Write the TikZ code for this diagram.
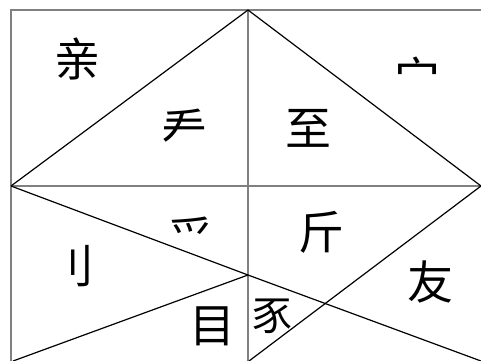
\documentclass[tikz,border=0pt]{standalone}
\usepackage{fontspec}
\newfontfamily\cjk{Noto Sans CJK SC}
\begin{document}
\begin{tikzpicture}[x=1pt,y=-1pt,
  frameline/.style={draw=black!50,line width=1.1pt},
  diagline/.style={draw=black,line width=1.2pt},
  glyph/.style={font=\cjk\fontsize{46}{46}\selectfont,inner sep=0pt},
  smallglyph/.style={font=\cjk\fontsize{40}{40}\selectfont,inner sep=0pt}]
\useasboundingbox (0,0) rectangle (481,360);
\clip (0,0) rectangle (481,360);
% key points
\coordinate (tl) at (11,10);
\coordinate (tm) at (248,10);
\coordinate (tr) at (490,10);
\coordinate (ml) at (11,186);
\coordinate (mm) at (248,186);
\coordinate (mr) at (481,186);
\coordinate (mrx) at (490,186);
\coordinate (bl) at (11,370);
\coordinate (bm) at (248,370);
\coordinate (cx) at (248,275);
\coordinate (bld) at (13,361);
\coordinate (bmd) at (249,361);
\coordinate (brd) at (481,361);
% frame
\draw[frameline] (tr) -- (tl) -- (bl);
\draw[frameline] (tm) -- (bm);
\draw[frameline] (ml) -- (mrx);
% diagonals
\draw[diagline] (ml) -- (tm) -- (mr);
\draw[diagline] (ml) -- (cx) -- (brd);
\draw[diagline] (cx) -- (bld);
\draw[diagline] (mr) -- (bmd);
% glyphs
\node[glyph] (qin) at (77,59) {亲};
\node[glyph] (mian) at (417,76) {宀};
\node[glyph] (shou) at (184,128) {龵};
\node[glyph] (zhi) at (308,128) {至};
\node[glyph] (zhao) at (191,236) {爫};
\node[glyph] (jin) at (321,232) {斤};
\node[glyph] (dao) at (71,266) {刂};
\node[glyph] (you) at (430,282) {友};
\node[glyph] (mu) at (212,326) {目};
\node[smallglyph] (shi) at (272,316) {豕};
\end{tikzpicture}
\end{document}
